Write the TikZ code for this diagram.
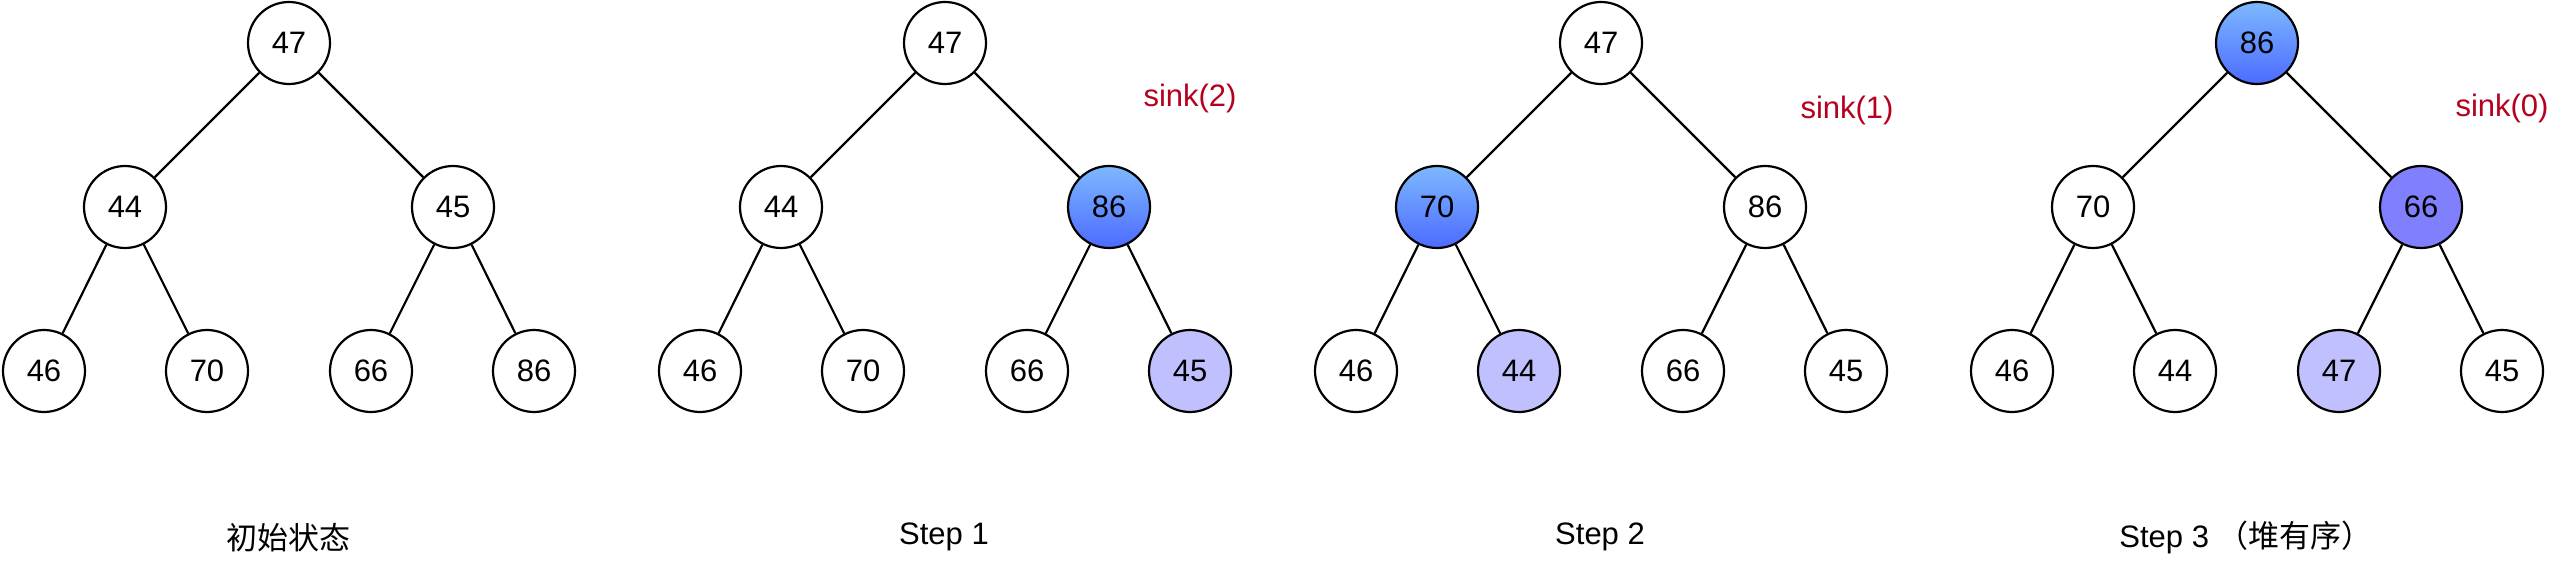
\documentclass[tikz,border=0pt]{standalone}
\usepackage{fontspec}
\setmainfont{Liberation Sans}
\newfontfamily\cjk{Noto Sans CJK SC}
\definecolor{gtop}{HTML}{7DB8FF}
\definecolor{gbot}{HTML}{4C6BFF}
\definecolor{lilac}{HTML}{C0C0FF}
\definecolor{mid}{HTML}{8080FF}
\definecolor{sinkred}{HTML}{B5001F}
\begin{document}
\begin{tikzpicture}[x=0.5pt,y=-0.5pt,
  hn/.style={circle,draw,line width=1.1pt,minimum size=41pt,inner sep=0pt,fill=white,
    font=\fontsize{15.5}{18}\selectfont},
  grad/.style={top color=gtop,bottom color=gbot},
  lil/.style={fill=lilac},
  midc/.style={fill=mid},
  edge/.style={line width=1.1pt},
  caplab/.style={font=\fontsize{15.5}{18}\selectfont},
  sinklab/.style={font=\fontsize{15.5}{18}\selectfont,text=sinkred}]
\useasboundingbox (0,0) rectangle (2564,572);
% Tree 1
\node[hn] (a0) at (289,43) {47};
\node[hn] (a1) at (125,207) {44};
\node[hn] (a2) at (453,207) {45};
\node[hn] (a3) at (44,371) {46};
\node[hn] (a4) at (207,371) {70};
\node[hn] (a5) at (371,371) {66};
\node[hn] (a6) at (534,371) {86};
% Tree 2
\node[hn] (b0) at (945,43) {47};
\node[hn] (b1) at (781,207) {44};
\node[hn,grad] (b2) at (1109,207) {86};
\node[hn] (b3) at (700,371) {46};
\node[hn] (b4) at (863,371) {70};
\node[hn] (b5) at (1027,371) {66};
\node[hn,lil] (b6) at (1190,371) {45};
% Tree 3
\node[hn] (c0) at (1601,43) {47};
\node[hn,grad] (c1) at (1437,207) {70};
\node[hn] (c2) at (1765,207) {86};
\node[hn] (c3) at (1356,371) {46};
\node[hn,lil] (c4) at (1519,371) {44};
\node[hn] (c5) at (1683,371) {66};
\node[hn] (c6) at (1846,371) {45};
% Tree 4
\node[hn,grad] (d0) at (2257,43) {86};
\node[hn] (d1) at (2093,207) {70};
\node[hn,midc] (d2) at (2421,207) {66};
\node[hn] (d3) at (2012,371) {46};
\node[hn] (d4) at (2175,371) {44};
\node[hn,lil] (d5) at (2339,371) {47};
\node[hn] (d6) at (2502,371) {45};
% Edges
\foreach \t in {a,b,c,d}{
  \draw[edge] (\t0) -- (\t1);
  \draw[edge] (\t0) -- (\t2);
  \draw[edge] (\t1) -- (\t3);
  \draw[edge] (\t1) -- (\t4);
  \draw[edge] (\t2) -- (\t5);
  \draw[edge] (\t2) -- (\t6);
}
% sink labels
\node[sinklab] (s2) at (1190,98) {sink(2)};
\node[sinklab] (s1) at (1847,110) {sink(1)};
\node[sinklab] (s0) at (2502,108) {sink(0)};
% captions
\node[caplab] (t0) at (288,538) {\cjk 初始状态};
\node[caplab] (t1) at (944,537) {Step 1};
\node[caplab] (t2) at (1600,537) {Step 2};
\node[caplab] (t3) at (2246,537) {Step 3 {\cjk （堆有序）}};
\end{tikzpicture}
\end{document}
